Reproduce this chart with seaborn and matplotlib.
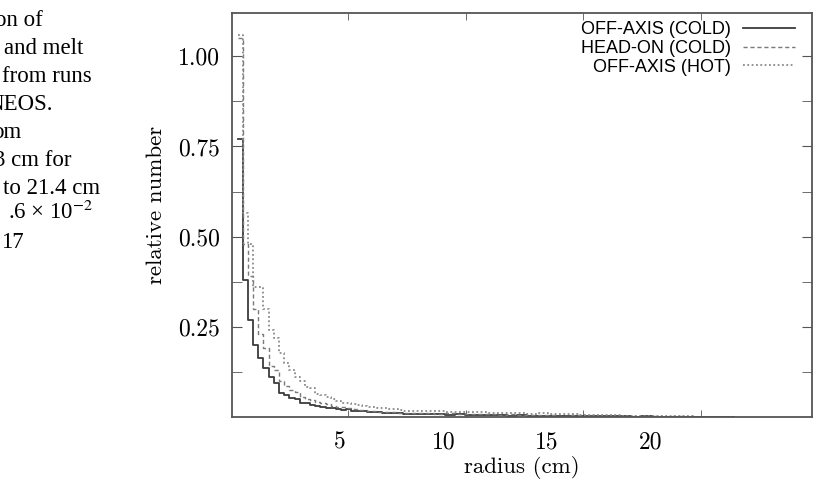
import numpy as np
import pandas as pd
import matplotlib
matplotlib.use("Agg")
import matplotlib.pyplot as plt
import seaborn as sns
from matplotlib.lines import Line2D

# ---------------- data ----------------
series_names = ["OFF-AXIS (COLD)", "HEAD-ON (COLD)", "OFF-AXIS (HOT)"]

# relative number per radius bin (0.25 cm bins from 0.05 to 8.05 cm, then 0.5 cm bins to 24.05 cm)
off_axis_cold = [0.77, 0.38, 0.27, 0.20, 0.163, 0.136, 0.11, 0.094, 0.066, 0.061, 0.053, 0.050,
                 0.040, 0.038, 0.033, 0.030, 0.028, 0.025, 0.024, 0.022, 0.020, 0.021, 0.018, 0.017,
                 0.016, 0.015, 0.014, 0.013, 0.012, 0.012, 0.011, 0.010,
                 0.008, 0.009, 0.007, 0.008, 0.006, 0.007, 0.006, 0.005, 0.006, 0.005, 0.004, 0.005,
                 0.004, 0.004, 0.003, 0.004, 0.003, 0.003, 0.002, 0.003, 0.002, 0.002, 0.001, 0.002,
                 0.001, 0.001, 0.001, 0.0, 0.001, 0.0, 0.0, 0.0]
head_on_cold = [1.05, 0.48, 0.39, 0.30, 0.23, 0.19, 0.14, 0.13, 0.10, 0.085, 0.075, 0.068,
                0.055, 0.050, 0.047, 0.042, 0.038, 0.035, 0.030, 0.028, 0.027, 0.025, 0.022, 0.020,
                0.019, 0.018, 0.016, 0.015, 0.015, 0.014, 0.013, 0.012,
                0.011, 0.010, 0.011, 0.009, 0.010, 0.008, 0.009, 0.007, 0.008, 0.006, 0.007, 0.006,
                0.005, 0.006, 0.005, 0.004, 0.005, 0.004, 0.003, 0.004, 0.003, 0.002, 0.003, 0.002,
                0.002, 0.001, 0.002, 0.001, 0.001, 0.0, 0.001, 0.0]
off_axis_hot = [1.06, 0.565, 0.48, 0.36, 0.36, 0.30, 0.24, 0.22, 0.177, 0.15, 0.13, 0.11,
                0.10, 0.083, 0.08, 0.065, 0.062, 0.055, 0.050, 0.045, 0.040, 0.038, 0.035, 0.033,
                0.030, 0.028, 0.027, 0.025, 0.024, 0.022, 0.021, 0.020,
                0.018, 0.017, 0.016, 0.016, 0.015, 0.014, 0.013, 0.013, 0.012, 0.011, 0.012, 0.010,
                0.009, 0.010, 0.008, 0.008, 0.007, 0.006, 0.006, 0.005, 0.005, 0.004, 0.004, 0.003,
                0.003, 0.002, 0.002, 0.002, 0.001, 0.001, 0.001, 0.0]

x_tick_values = [5, 10, 15, 20]
y_tick_values = [0.25, 0.50, 0.75, 1.00]
y_tick_labels = ["0.25", "0.50", "0.75", "1.00"]

caption_lines = ["on of", "and melt", "from runs", "NEOS.", "om", "3 cm for",
                 "to 21.4 cm", ".6 \u00d7 10$^{-2}$", "17"]

# --------------- bins ----------------
edges = np.concatenate([np.arange(0.05, 8.05, 0.25), np.arange(8.05, 24.06, 0.5)])
centers = (edges[:-1] + edges[1:]) / 2

# --------------- figure ---------------
W, H = 815, 480
fig = plt.figure(figsize=(W / 100, H / 100), dpi=100)
ax = fig.add_axes([232 / W, 1 - 417 / H, 580 / W, 404 / H])

serif = ["cmr10", "Liberation Serif", "DejaVu Serif"]
plt.rcParams["mathtext.fontset"] = "stix"

styles = [
    dict(color="#3c3c3c", linestyle="-", linewidth=1.3),
    dict(color="#7a7a7a", linestyle=(0, (3, 2)), linewidth=1.0),
    dict(color="#8a8a8a", linestyle=(0, (1, 1.4)), linewidth=1.3),
]
all_vals = [off_axis_cold, head_on_cold, off_axis_hot]
for name, vals, st in zip(series_names, all_vals, styles):
    d = pd.DataFrame({"radius": centers, "value": vals})
    sns.histplot(data=d, x="radius", weights="value", bins=edges.tolist(), element="step",
                 fill=False, ax=ax, **st)

ax.set_xlim(-0.22, 27.8)
ax.set_ylim(0, 1.12)

for sp in ax.spines.values():
    sp.set_color("#555555")
    sp.set_linewidth(1.3)

ax.set_xticks(x_tick_values)
ax.set_xticklabels([str(v) for v in x_tick_values], fontfamily=serif, fontsize=17)
ax.set_xticks([5.4, 11.1, 16.75, 22.45], minor=True)
ax.tick_params(axis="x", which="major", length=0, pad=10)
ax.tick_params(axis="x", which="minor", direction="in", length=5, top=True, bottom=True,
               color="#555555")

ax.set_yticks(y_tick_values)
ax.set_yticklabels(y_tick_labels, fontfamily=serif, fontsize=17)
ax.set_yticks([0.125, 0.375, 0.625, 0.875], minor=True)
ax.tick_params(axis="y", which="both", direction="in", length=7, left=True, right=True,
               color="#555555", pad=9)

ax.set_xlabel("radius (cm)", fontfamily=serif, fontsize=16.5, labelpad=2)
ax.set_ylabel("relative number", fontfamily=serif, fontsize=16.5)
ax.yaxis.set_label_coords((166 - 232) / 580, (417 - 205) / 404)

handles = [Line2D([], [], **st) for st in styles]
leg = ax.legend(handles, series_names, loc="upper right", bbox_to_anchor=(0.971, 0.98),
                frameon=False, markerfirst=False, borderpad=0, borderaxespad=0,
                handlelength=2.9, handletextpad=0.65, labelspacing=0.1,
                prop={"family": ["Liberation Sans", "DejaVu Sans"], "size": 13})

# caption fragment on the left (cropped text of the page)
cap_y = [21, 48, 76, 104, 132, 161, 189, 212, 243]
cap_x = [43, 83, 92, 53, 21, 72, 100, 93, 24]
for txt, xx, yy in zip(caption_lines, cap_x, cap_y):
    fig.text(xx / W, 1 - yy / H, txt, ha="right", va="center", fontsize=16.5,
             family=["Liberation Serif", "DejaVu Serif"])

fig.savefig("out.png", dpi=100)
